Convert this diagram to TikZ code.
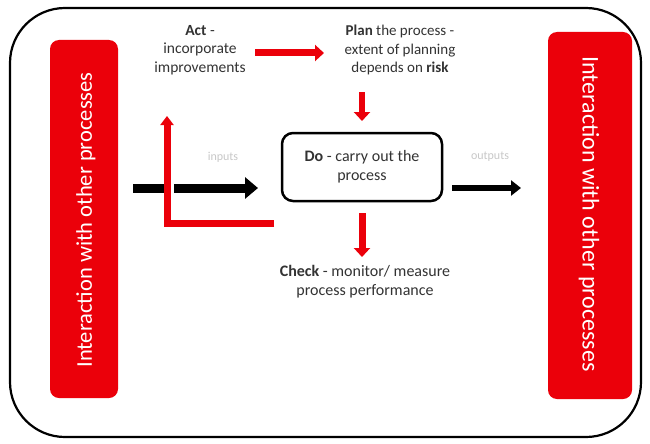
\documentclass[tikz,border=0pt]{standalone}
\usepackage{fontspec}
\setmainfont{Carlito}
\usetikzlibrary{arrows.meta}
\definecolor{pdred}{RGB}{235,0,10}
\definecolor{faint}{RGB}{200,200,200}
\tikzset{
  sidebar/.style={fill=pdred, draw=none, rounded corners=9pt},
  lbl/.style={align=center, text=black!80, font=\fontsize{16}{19}\selectfont},
  faintlbl/.style={text=faint, font=\fontsize{12}{14}\selectfont},
  redarrow/.style={draw=pdred, line width=7pt, -{Triangle[length=9pt,width=16pt]}},
  blackarrow/.style={draw=black, line width=9pt, -{Triangle[length=13pt,width=21pt]}},
  blackarrowthin/.style={draw=black, line width=6pt, -{Triangle[length=10pt,width=15pt]}},
}
\begin{document}
\begin{tikzpicture}[x=1pt,y=-1pt]
\useasboundingbox (0,0) rectangle (650,444);
\fill[white] (0,0) rectangle (650,444);
% outer frame
\draw[line width=2.2pt, rounded corners=55pt] (10,8) rectangle (641,437);
% side bars
\fill[sidebar] (50,40) rectangle (118,398);
\node[text=white, font=\fontsize{22.5}{24}\selectfont, rotate=90] (lefttxt) at (86,220) {Interaction with other processes};
\fill[sidebar] (548,32) rectangle (632,399);
\node[text=white, font=\fontsize{24}{26}\selectfont, rotate=-90] (righttxt) at (589,214) {Interaction with other processes};
% labels
\node[lbl, font=\fontsize{15.5}{18.5}\selectfont] (act) at (200,50) {\textbf{Act} -\\incorporate\\improvements};
\node[lbl, font=\fontsize{15}{18.5}\selectfont] (plan) at (400,50) {\textbf{Plan} the process -\\extent of planning\\depends on \textbf{risk}};
\node[draw=black, line width=2.5pt, rounded corners=11pt, minimum width=160pt, minimum height=68pt, lbl] (do) at (362,167) {\textbf{Do} - carry out the\\process};
\node[lbl] (check) at (365,282) {\textbf{Check} - monitor/ measure\\process performance};
\node[faintlbl] (inputs) at (223,157) {inputs};
\node[faintlbl] (outputs) at (490,157) {outputs};
% coordinates
\coordinate (inStart) at (133,188);
\coordinate (inEnd) at (258,188);
\coordinate (outStart) at (452,188);
\coordinate (outEnd) at (521,188);
\coordinate (lEnd) at (274,223);
\coordinate (lCorner) at (167,223);
\coordinate (lTop) at (167,116);
\coordinate (aS) at (255,53);
\coordinate (aE) at (324,53);
\coordinate (pS) at (362,92);
\coordinate (pE) at (362,121);
\coordinate (cS) at (362,213);
\coordinate (cE) at (362,257);
% arrows
\draw[blackarrow] (inStart) -- (inEnd);
\draw[white, line width=3pt] (172.5,180) -- (172.5,196);
\draw[blackarrowthin] (outStart) -- (outEnd);
\draw[redarrow] (aS) -- (aE);
\draw[redarrow, line width=6pt] (pS) -- (pE);
\draw[redarrow] (cS) -- (cE);
\draw[draw=pdred, line width=7pt, -{Triangle[length=9pt,width=13pt]}] (lEnd) -- (lCorner) -- (lTop);
\end{tikzpicture}
\end{document}
